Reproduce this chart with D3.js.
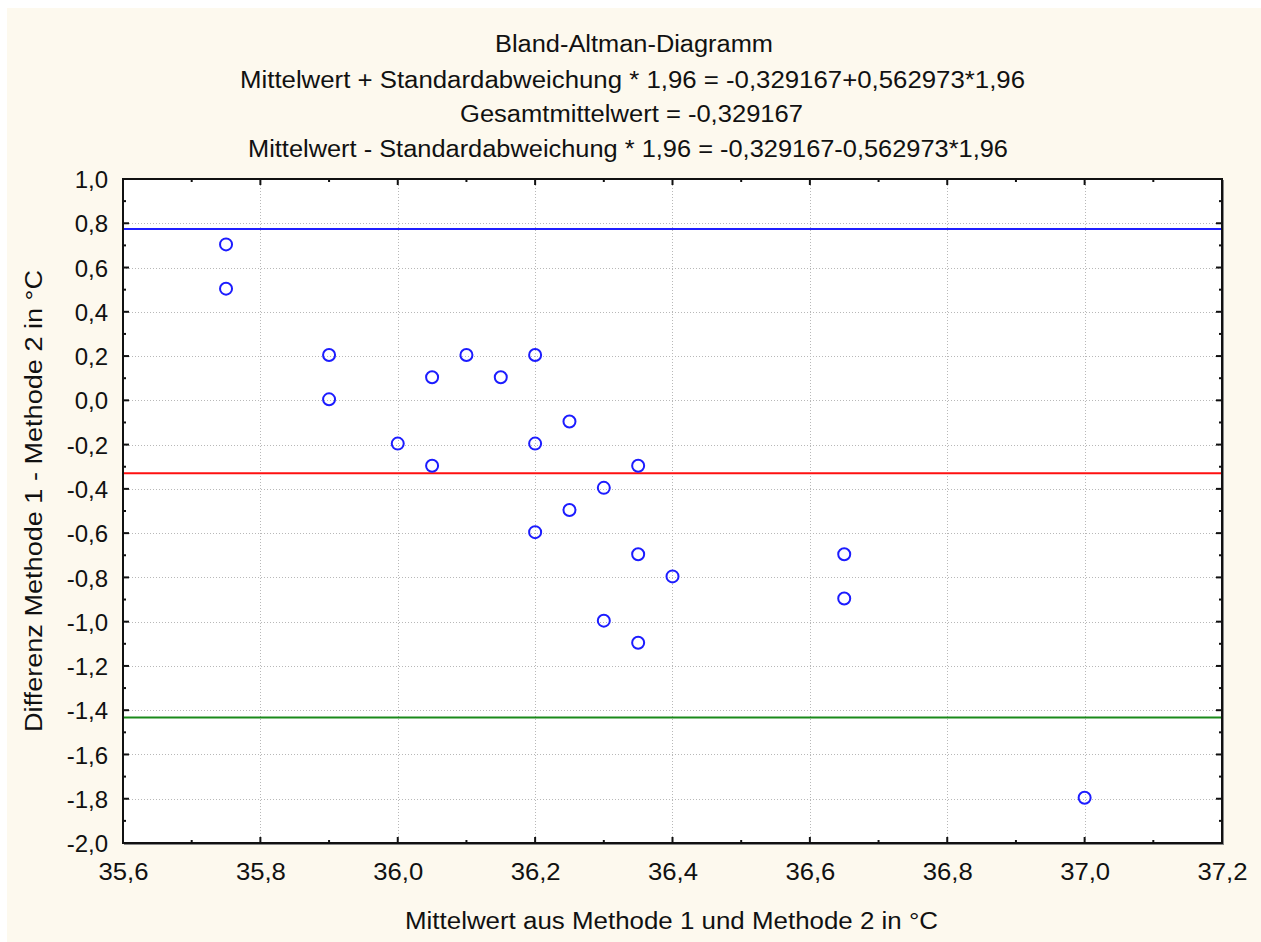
<!DOCTYPE html>
<html>
<head>
<meta charset="utf-8">
<script src="https://cdn.jsdelivr.net/npm/d3@7/dist/d3.min.js"></script>
<style>
  html, body { margin: 0; padding: 0; background: #ffffff; }
  svg { display: block; }
  text { font-family: "Liberation Sans", Arial, sans-serif; fill: #111; }
</style>
</head>
<body>
<svg id="chart" width="1261" height="942"></svg>
<script>
// ---- data ----
const meanX = [35.75, 35.75, 35.90, 35.90, 36.00, 36.05, 36.05, 36.10, 36.15, 36.20, 36.20, 36.20,
               36.25, 36.25, 36.30, 36.30, 36.35, 36.35, 36.35, 36.40, 36.65, 36.65, 37.00];
const diffY = [0.7, 0.5, 0.2, 0.0, -0.2, 0.1, -0.3, 0.2, 0.1, 0.2, -0.2, -0.6,
               -0.1, -0.5, -0.4, -1.0, -0.3, -0.7, -1.1, -0.8, -0.7, -0.9, -1.8];
const meanDiff = -0.329167;
const sdDiff = 0.562973;
const zFactor = 1.96;
const xTicks = [35.6, 35.8, 36.0, 36.2, 36.4, 36.6, 36.8, 37.0, 37.2];
const yTicks = [1.0, 0.8, 0.6, 0.4, 0.2, 0.0, -0.2, -0.4, -0.6, -0.8, -1.0, -1.2, -1.4, -1.6, -1.8, -2.0];
const titleLines = [
  "Bland-Altman-Diagramm",
  "Mittelwert + Standardabweichung * 1,96 = -0,329167+0,562973*1,96",
  "Gesamtmittelwert = -0,329167",
  "Mittelwert - Standardabweichung * 1,96 = -0,329167-0,562973*1,96"
];
const xTitle = "Mittelwert aus Methode 1 und Methode 2 in °C";
const yTitle = "Differenz Methode 1 - Methode 2 in °C";

// ---- layout ----
const L = 123, R = 1222, T = 179, B = 843;
const svg = d3.select("#chart");
const fmt = d3.formatLocale({decimal: ",", thousands: ".", grouping: [3], currency: ["", "€"], minus: "-"}).format(".1f");

svg.append("rect").attr("x", 7).attr("y", 8).attr("width", 1254).attr("height", 934).attr("fill", "#fdf9ee");

const x = d3.scaleLinear().domain([35.6, 37.2]).range([L, R]);
const y = d3.scaleLinear().domain([-2.0, 1.0]).range([B, T]);

// plot background
svg.append("rect").attr("x", L).attr("y", T).attr("width", R - L).attr("height", B - T).attr("fill", "#fff");

// grid
const grid = svg.append("g").attr("stroke", "#b8b8b8").attr("stroke-width", 1).attr("stroke-dasharray", "1,2");
grid.selectAll(".gx").data(xTicks.slice(1, -1)).join("line")
  .attr("x1", d => Math.round(x(d)) + 0.5).attr("x2", d => Math.round(x(d)) + 0.5)
  .attr("y1", T).attr("y2", B);
grid.selectAll(".gy").data(yTicks.slice(1, -1)).join("line")
  .attr("y1", d => Math.round(y(d)) + 0.5).attr("y2", d => Math.round(y(d)) + 0.5)
  .attr("x1", L).attr("x2", R);

// reference lines
const refs = [
  {v: meanDiff + sdDiff * zFactor, c: "#1f1fff"},
  {v: meanDiff, c: "#ff1010"},
  {v: meanDiff - sdDiff * zFactor, c: "#1a8a1a"}
];
svg.selectAll(".ref").data(refs).join("line")
  .attr("x1", L).attr("x2", R)
  .attr("y1", d => y(d.v)).attr("y2", d => y(d.v))
  .attr("stroke", d => d.c).attr("stroke-width", 2);

// points
svg.selectAll(".pt").data(meanX.map((m, i) => [m, diffY[i]])).join("circle")
  .attr("cx", d => x(d[0])).attr("cy", d => y(d[1]) - 1)
  .attr("r", 6).attr("fill", "none").attr("stroke", "#1c1cff").attr("stroke-width", 2);

// ticks (inward, all four sides)
const ticks = svg.append("g").attr("stroke", "#111").attr("stroke-width", 2);
const xMinor = xTicks.slice(0, -1).map(v => v + 0.1);
const yMinor = yTicks.slice(1).map(v => v + 0.1);
const xMajIn = xTicks.slice(1, -1), yMajIn = yTicks.slice(1, -1);
[[xMajIn, 6], [xMinor, 3]].forEach(([arr, len]) => {
  ticks.selectAll(null).data(arr).join("line")
    .attr("x1", d => x(d)).attr("x2", d => x(d)).attr("y1", B).attr("y2", B - len);
  ticks.selectAll(null).data(arr).join("line")
    .attr("x1", d => x(d)).attr("x2", d => x(d)).attr("y1", T).attr("y2", T + len);
});
[[yMajIn, 6], [yMinor, 3]].forEach(([arr, len]) => {
  ticks.selectAll(null).data(arr).join("line")
    .attr("y1", d => y(d)).attr("y2", d => y(d)).attr("x1", L).attr("x2", L + len);
  ticks.selectAll(null).data(arr).join("line")
    .attr("y1", d => y(d)).attr("y2", d => y(d)).attr("x1", R).attr("x2", R - len);
});

// frame
svg.append("rect").attr("x", L).attr("y", T).attr("width", R - L).attr("height", B - T)
  .attr("fill", "none").attr("stroke", "#111").attr("stroke-width", 2);
svg.append("line").attr("x1", R + 1.5).attr("x2", R + 1.5).attr("y1", T + 1).attr("y2", B + 2)
  .attr("stroke", "#888").attr("stroke-width", 1);
svg.append("line").attr("x1", L + 1).attr("x2", R + 2).attr("y1", B + 1.5).attr("y2", B + 1.5)
  .attr("stroke", "#888").attr("stroke-width", 1);

// tick labels via axes
const xAxis = d3.axisBottom(x).tickValues(xTicks).tickFormat(fmt).tickSize(0).tickPadding(0);
const gx = svg.append("g").attr("transform", `translate(0,${B + 20})`).call(xAxis);
gx.select(".domain").remove();
gx.selectAll("text").attr("font-size", 24).attr("font-family", "Liberation Sans, Arial, sans-serif")
  .attr("fill", "#111").attr("dy", "0.71em").attr("y", 0)
  .attr("textLength", 50).attr("lengthAdjust", "spacingAndGlyphs");

const yAxis = d3.axisLeft(y).tickValues(yTicks).tickFormat(fmt).tickSize(0).tickPadding(0);
const gy = svg.append("g").attr("transform", `translate(${L - 15},0)`).call(yAxis);
gy.select(".domain").remove();
gy.selectAll("text").attr("font-size", 24).attr("font-family", "Liberation Sans, Arial, sans-serif")
  .attr("fill", "#111").attr("dy", "0.36em");

// titles
const titlePos = [[495, 52, 278], [240, 88, 785], [460, 122, 343], [248, 157, 760]];
svg.selectAll(".title").data(titleLines).join("text")
  .attr("x", (d, i) => titlePos[i][0]).attr("y", (d, i) => titlePos[i][1])
  .attr("textLength", (d, i) => titlePos[i][2]).attr("lengthAdjust", "spacingAndGlyphs")
  .attr("font-size", 23).text(d => d);

svg.append("text").attr("x", 405).attr("y", 929).attr("textLength", 533)
  .attr("lengthAdjust", "spacingAndGlyphs").attr("font-size", 23).text(xTitle);

svg.append("text").attr("transform", "translate(42,732) rotate(-90)")
  .attr("x", 0).attr("y", 0).attr("textLength", 462)
  .attr("lengthAdjust", "spacingAndGlyphs").attr("font-size", 23).text(yTitle);
</script>
</body>
</html>
